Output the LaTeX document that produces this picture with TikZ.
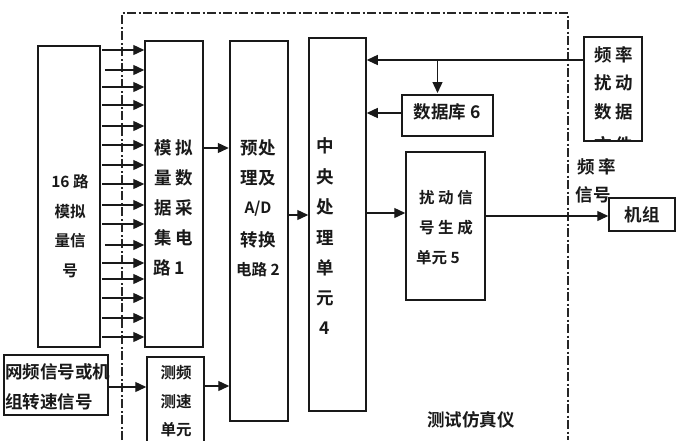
\documentclass[tikz,border=0pt]{standalone}
\usepackage{fontspec}
\setmainfont{Noto Sans CJK SC}[BoldFont={* Bold}]
\usetikzlibrary{arrows.meta}
\tikzset{
  blk/.style={draw=black!90,line width=1.5pt,rectangle,inner sep=0pt},
  arr/.style={draw=black!90,line width=1.3pt,-{Triangle[length=11pt,width=10pt]}},
  boundary/.style={draw=black!85,line width=1.2pt,dash pattern=on 9pt off 2.5pt on 2pt off 2.5pt},
  lab/.style={inner sep=0pt,font=\bfseries\fontsize{17.5}{18}\selectfont,text=black!90},
  labs/.style={inner sep=0pt,font=\bfseries\fontsize{15.5}{16}\selectfont,text=black!90},
}
\newcommand{\mk}[5]{\node[blk,minimum width=#3pt-#1pt,minimum height=#4pt-#2pt] (#5) at ({(#1+#3)/2},{(#2+#4)/2}) {};}
\begin{document}
\begin{tikzpicture}[x=1pt,y=-1pt]
\useasboundingbox[fill=white] (0,0) rectangle (681,440);
\coordinate (bA) at (122,440);
\coordinate (bB) at (122,13);
\coordinate (bC) at (568,13);
\coordinate (bD) at (568,440);
\draw[boundary] (bA) -- (bB) -- (bC) -- (bD);
\mk{38}{46}{100}{347}{src}
\mk{145}{41}{203}{347}{adc}
\mk{230}{41}{288}{421}{pre}
\mk{309}{38}{366}{411}{cpu}
\mk{402}{95}{493}{136}{db}
\mk{406}{152}{485}{300}{gen}
\mk{609}{198}{675}{231}{unit}
\mk{4}{355}{108}{415}{net}
\mk{147}{357}{204}{470}{meas}
\begin{scope}
\clip (584,37) rectangle (642,141);
\node[lab] (t1d) at (614,145) {文 件};
\end{scope}
\mk{584}{37}{642}{141}{file}
\foreach \y/\s in {50/101,70/104,87/101,105/101,126/101,145/101,165/101,184/101,205/101,224/101,245/104,263/101,279/101,298/101,318/101,337/101}
  \draw[arr] (src.east |- 0,\y) ++(\s-100,0) -- (adc.west |- 0,\y);
\draw[arr] (adc.east |- 0,148) -- ++(25,0);
\draw[arr] (pre.east |- 0,215) -- (cpu.west |- 0,215);
\draw[arr] (cpu.east |- 0,213) -- (gen.west |- 0,213);
\draw[arr] (gen.east |- 0,216) -- (unit.west |- 0,216);
\draw[arr] (net.east |- 0,387) -- (meas.west |- 0,387);
\draw[arr] (meas.east |- 0,386) -- (pre.west |- 0,386);
\draw[arr] (file.west |- 0,60) -- (cpu.east |- 0,60);
\draw[arr] (db.north |- 0,60) ++(-10,0) -- ++(0,33);
\draw[arr] (db.west |- 0,113) -- (cpu.east |- 0,113);
% labels
\node[labs] (a1) at (70,182) {16 路};
\node[labs] (a2) at (70,212) {模拟};
\node[labs] (a3) at (70,241) {量信};
\node[labs] (a4) at (70,271) {号};
\node[lab] (b1) at (174,148) {模 拟};
\node[lab] (b2) at (174,178) {量 数};
\node[lab] (b3) at (174,208) {据 采};
\node[lab] (b4) at (174,238) {集 电};
\node[lab,anchor=west] (b5) at (153,268) {路 1};
\node[lab] (c1) at (258,148) {预处};
\node[lab] (c2) at (258,178) {理及};
\node[labs] (c3) at (258,209) {A/D};
\node[lab] (c4) at (258,240) {转换};
\node[labs] (c5) at (258,270) {电路 2};
\node[lab] (d1) at (325,146) {中};
\node[lab] (d2) at (325,177) {央};
\node[lab] (d3) at (325,207) {处};
\node[lab] (d4) at (325,238) {理};
\node[lab] (d5) at (325,268) {单};
\node[lab] (d6) at (325,298) {元};
\node[lab] (d7) at (325,328) {4};
\node[lab] (e1) at (447,112) {数据库 6};
\node[labs] (f1) at (446,198) {扰 动 信};
\node[labs] (f2) at (446,228) {号 生 成};
\node[labs] (f3) at (438,258) {单元 5};
\node[lab] (g1) at (614,55) {频 率};
\node[lab] (g2) at (614,83) {扰 动};
\node[lab] (g3) at (614,112) {数 据};
\node[lab] (h1) at (597,167) {频 率};
\node[lab] (h2) at (593,195) {信号};
\node[lab] (i1) at (642,215) {机组};
\node[lab,anchor=west] (j1) at (5,372) {网频信号或机};
\node[lab,anchor=west] (j2) at (5,402) {组转速信号};
\node[labs] (k1) at (176,373) {测频};
\node[labs] (k2) at (176,402) {测速};
\node[labs] (k3) at (176,430) {单元};
\node[lab] (l1) at (471,420) {测试仿真仪};
\end{tikzpicture}
\end{document}
